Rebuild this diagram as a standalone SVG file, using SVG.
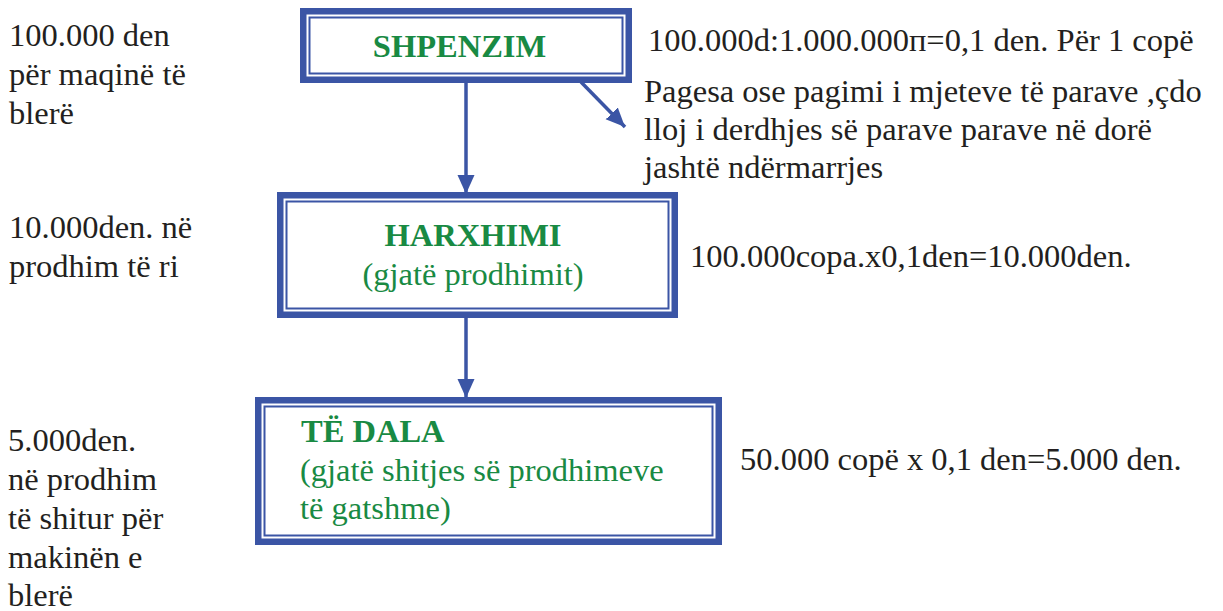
<svg xmlns="http://www.w3.org/2000/svg" width="1223" height="611" viewBox="0 0 1223 611" font-family="'Liberation Serif', 'Times New Roman', serif" font-size="32.5">
<style>
.outer{fill:#ffffff;stroke:#3b55a5;stroke-width:6.5}
.inner{fill:none;stroke:#3b55a5;stroke-width:2}
.t{fill:#231f20}
.g{fill:#198a43}
.b{font-weight:bold}
.conn{stroke:#3b55a5;stroke-width:3.5;fill:none}
</style>
<defs>
<marker id="ah" markerUnits="userSpaceOnUse" markerWidth="20" markerHeight="20" viewBox="0 0 20 20" refX="19" refY="10" orient="auto">
<path d="M0,1.5 L19,10 L0,18.5 Z" fill="#3b55a5"/>
</marker>
</defs>
<g id="connectors">
<line class="conn" x1="466" y1="83" x2="466" y2="194" marker-end="url(#ah)"/>
<line class="conn" x1="581" y1="82" x2="625" y2="127" marker-end="url(#ah)"/>
<line class="conn" x1="466" y1="318" x2="466" y2="398" marker-end="url(#ah)"/>
</g>
<g id="shpenzim">
<rect class="outer" x="303.25" y="11.25" width="325.5" height="68.5"/>
<rect class="inner" x="309.5" y="17.5" width="313" height="56"/>
<text class="g b" x="459.5" y="57" text-anchor="middle" font-family="'Liberation Serif', serif">SHPENZIM</text>
</g>
<g id="harxhimi">
<rect class="outer" x="280.25" y="195.25" width="394.5" height="119.5"/>
<rect class="inner" x="286.5" y="201.5" width="382" height="107"/>
<text class="g b" x="473" y="246" text-anchor="middle" font-family="'Liberation Serif', serif">HARXHIMI</text>
<text class="g" x="473" y="285" text-anchor="middle" font-family="'Liberation Serif', serif">(gjatë prodhimit)</text>
</g>
<g id="te-dala" font-family="'Liberation Serif', serif">
<rect class="outer" x="258.25" y="400.25" width="460.5" height="141.5"/>
<rect class="inner" x="264.5" y="406.5" width="448" height="129"/>
<text class="g b" x="301" y="442">TË DALA</text>
<text class="g" x="300" y="481">(gjatë shitjes së prodhimeve</text>
<text class="g" x="300" y="519">të gatshme)</text>
</g>
<g id="left-notes" font-family="'Liberation Serif', serif">
<text class="t" x="9" y="46">100.000 den</text>
<text class="t" x="9" y="85">për maqinë të</text>
<text class="t" x="9" y="124">blerë</text>
<text class="t" x="9" y="238">10.000den. në</text>
<text class="t" x="9" y="277">prodhim të ri</text>
<text class="t" x="8" y="451">5.000den.</text>
<text class="t" x="8" y="490">në prodhim</text>
<text class="t" x="8" y="529">të shitur për</text>
<text class="t" x="8" y="568">makinën e</text>
<text class="t" x="8" y="606">blerë</text>
</g>
<g id="right-notes" font-family="'Liberation Serif', serif">
<text class="t" x="648" y="51">100.000d:1.000.000п=0,1 den. Për 1 copë</text>
<text class="t" x="644" y="102">Pagesa ose pagimi i mjeteve të parave ,çdo</text>
<text class="t" x="644" y="140">lloj i derdhjes së parave parave në dorë</text>
<text class="t" x="644" y="178">jashtë ndërmarrjes</text>
<text class="t" x="690" y="267">100.000copa.x0,1den=10.000den.</text>
<text class="t" x="740" y="470">50.000 copë x 0,1 den=5.000 den.</text>
</g>
</svg>
